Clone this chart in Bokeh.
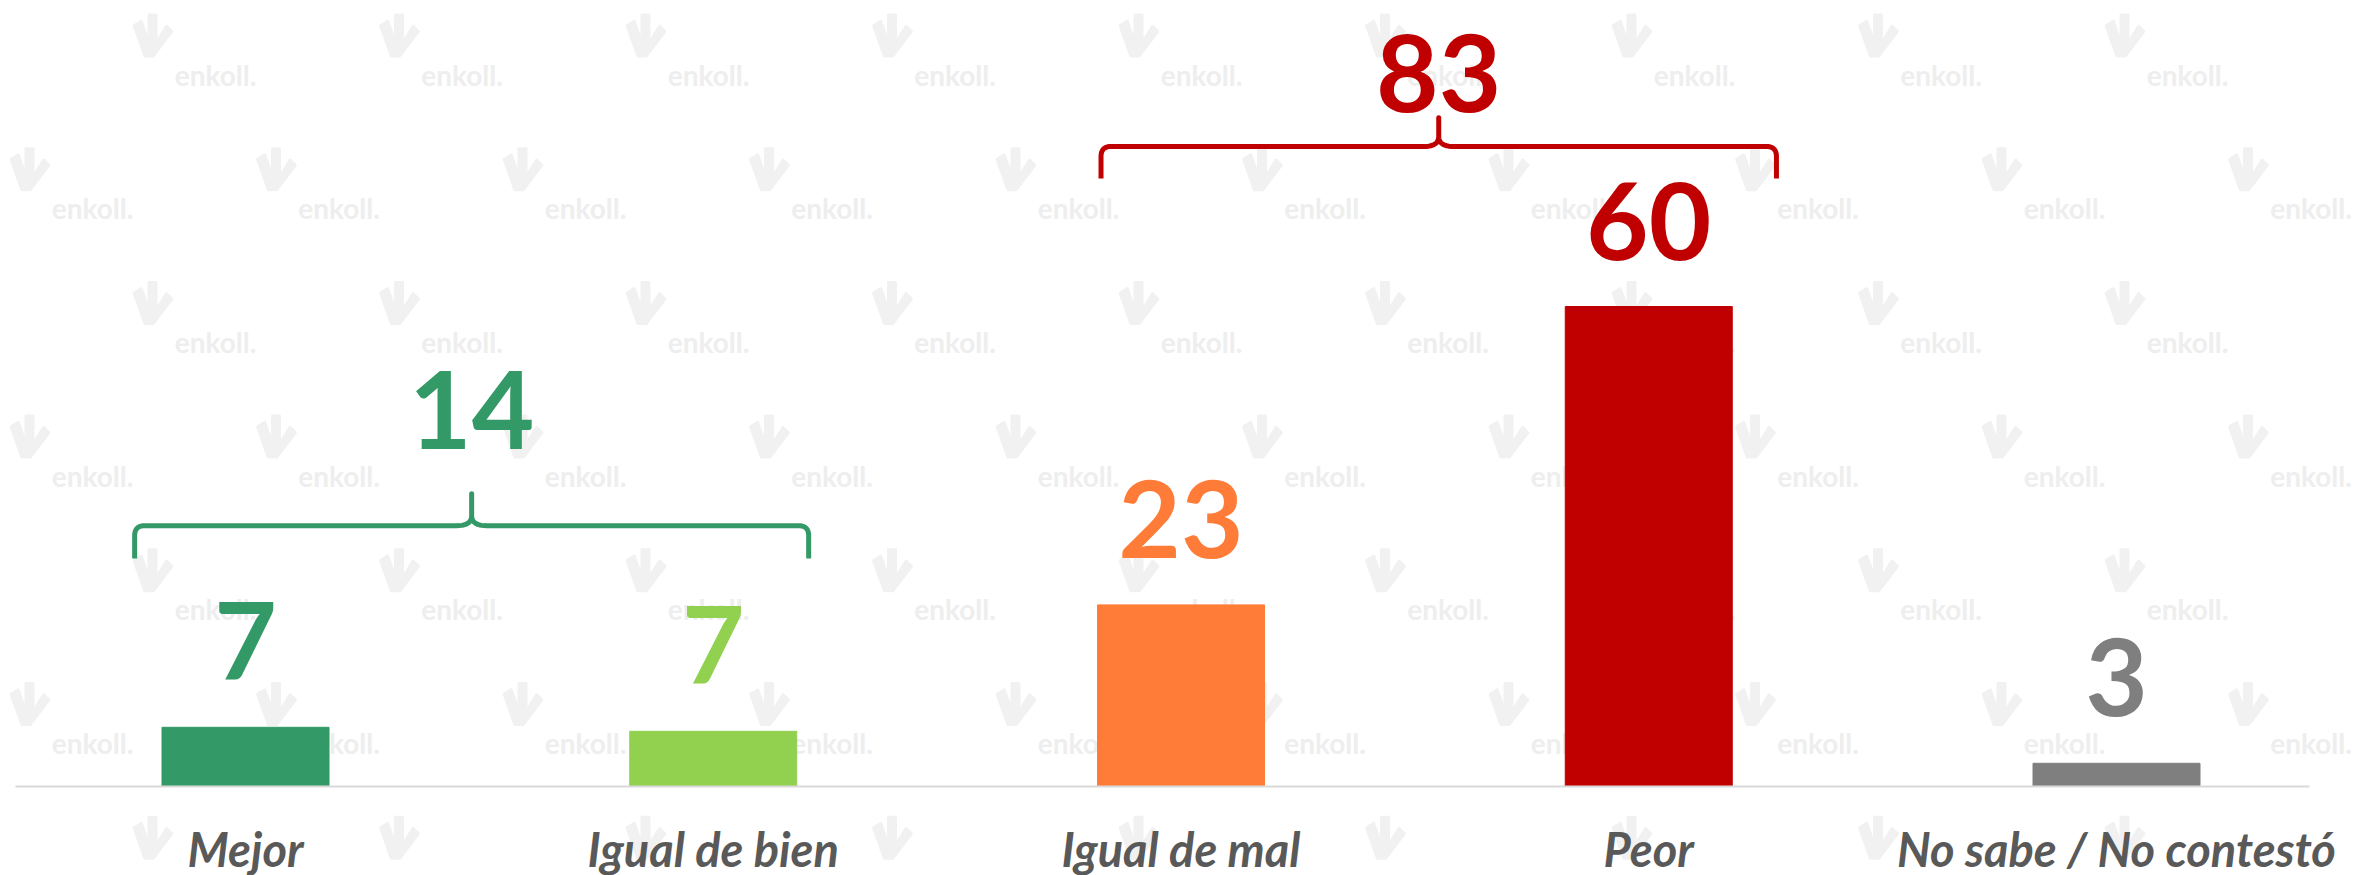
import numpy as np
from bokeh.plotting import figure
from bokeh.models import LinearAxis, FixedTicker, ColumnDataSource, Range1d
from bokeh.core.properties import value
from bokeh.embed import file_html
from bokeh.resources import INLINE

# ---------------- data ----------------
categories = ["Mejor", "Igual de bien", "Igual de mal", "Peor", "No sabe / No contestó"]
values = [7.4, 6.9, 22.7, 60.0, 2.9]
value_labels = ["7", "7", "23", "60", "3"]
colors = ["#339966", "#92D050", "#FF7C38", "#C00000", "#7F7F7F"]

group_labels = ["14", "83"]
group_members = [(0, 1), (2, 3)]
group_colors = ["#339966", "#C00000"]

# ---------------- layout ----------------
W, H = 2366, 875
PX = 467.75          # px per category
X0 = 245.0           # px of first category centre
PY = 8.0             # px per percentage point
Y0 = 786.0           # px of baseline (from top)
BASE_FIX = 40        # compensation of the alphabetic baseline placement
FS = "108px"

x_start = -X0 / PX
x_end = x_start + W / PX
y_end = Y0 / PY
y_start = y_end - H / PY

p = figure(width=W, height=H, output_backend="svg", toolbar_location=None,
           x_axis_type=None, y_axis_type=None,
           x_range=Range1d(x_start, x_end), y_range=Range1d(y_start, y_end),
           min_border=0, min_border_left=0, min_border_right=0,
           min_border_top=0, min_border_bottom=0)
p.outline_line_color = None
p.background_fill_color = "white"
p.border_fill_color = "white"
p.xgrid.visible = False
p.ygrid.visible = False

def dx(px):
    return px / PX

def dy(px):
    return px / PY

def to_x(px):
    return x_start + px / PX

def to_y(px):
    return y_end - px / PY

# ---------------- watermark ----------------
wm_x, wm_y = [], []
ic_xs, ic_ys = [], []
icon = [(-20, -10), (-9, 21), (0, 21), (19, -4), (13, -10), (3, 6), (3, -21),
        (-5, -21), (-5, 5), (-12, -15)]
for r in range(8):
    yc = 74 + r * 133.7
    xs0 = 215 - (r % 2) * 123
    for k in range(-1, 11):
        xc = xs0 + k * 246.5
        if 45 <= xc <= W - 45 and yc <= H - 14:
            wm_x.append(to_x(xc))
            wm_y.append(to_y(yc))
        ix, iy = xc - 62, yc - 39
        if 0 <= ix <= W:
            ic_xs.append([to_x(ix + a) for a, b in icon])
            ic_ys.append([to_y(iy + b) for a, b in icon])
p.patches(ic_xs, ic_ys, fill_color="#f1f1f1", line_color="#f1f1f1", line_width=2)
p.text(x=wm_x, y=wm_y, text=["enkoll."] * len(wm_x), text_font=value("Lato"),
       text_font_style="bold", text_font_size="28px", text_color="#eeeeee",
       text_align="center", text_baseline="middle")

# ---------------- bars ----------------
xs = list(range(len(categories)))
lab_y = [v + dy(46 + BASE_FIX) for v in values]
src = ColumnDataSource(dict(x=xs, top=values, color=colors, label=value_labels, ly=lab_y))
p.vbar(x="x", top="top", bottom=0, width=dx(167), color="color", source=src)
p.text(x="x", y="ly", text="label", text_color="color", source=src,
       text_font=value("Lato"), text_font_style="bold", text_font_size=FS,
       text_align="center", text_baseline="alphabetic")

# ---------------- braces ----------------
def qbez(p0, c, p1, n=12):
    t = np.linspace(0, 1, n)
    bx = (1 - t) ** 2 * p0[0] + 2 * (1 - t) * t * c[0] + t ** 2 * p1[0]
    by = (1 - t) ** 2 * p0[1] + 2 * (1 - t) * t * c[1] + t ** 2 * p1[1]
    return list(bx), list(by)

def brace(xl, xr, yl, ye, yp):
    xc = (xl + xr) / 2
    rx, ry = dx(10), dy(10)
    px_, py_ = [xl], [ye]
    for seg in [((xl, yl - ry), (xl, yl), (xl + rx, yl)),
                ((xc - rx * 1.5, yl), (xc, yl), (xc, yl + ry)),
                ((xc, yp), (xc, yp), (xc, yp)),
                ((xc, yl + ry), (xc, yl), (xc + rx * 1.5, yl)),
                ((xr - rx, yl), (xr, yl), (xr, yl - ry))]:
        bx, by = qbez(*seg)
        px_ += bx
        py_ += by
    px_.append(xr)
    py_.append(ye)
    return px_, py_

brace_ext = [(-0.237, 0.204), (-0.171, 0.273)]
brace_line = [32.6, 80.0]
brace_end = [28.5, 76.0]
brace_peak = [36.6, 83.6]
label_y = [42.1, 84.2]

for i, (a, b) in enumerate(group_members):
    xl = a + brace_ext[i][0]
    xr = b + brace_ext[i][1]
    bx, by = brace(xl, xr, brace_line[i], brace_end[i], brace_peak[i])
    p.line(bx, by, line_color=group_colors[i], line_width=5, line_join="round")
    p.text(x=[(xl + xr) / 2], y=[label_y[i] + dy(BASE_FIX)], text=[group_labels[i]],
           text_color=group_colors[i], text_font=value("Lato"), text_font_style="bold",
           text_font_size=FS, text_align="center", text_baseline="alphabetic")

# ---------------- category axis ----------------
ax = LinearAxis(fixed_location=0)
ax.ticker = FixedTicker(ticks=xs)
ax.major_label_overrides = {i: c for i, c in enumerate(categories)}
ax.major_tick_line_color = None
ax.minor_tick_line_color = None
ax.axis_line_color = "#d9d9d9"
ax.axis_line_width = 2
ax.bounds = (to_x(15), to_x(2309))
ax.major_label_text_font = "Lato"
ax.major_label_text_font_style = "bold italic"
ax.major_label_text_font_size = "47px"
ax.major_label_text_color = "#595959"
ax.major_label_standoff = 28
p.add_layout(ax, "below")

open("out.html", "w").write(file_html(p, INLINE))
